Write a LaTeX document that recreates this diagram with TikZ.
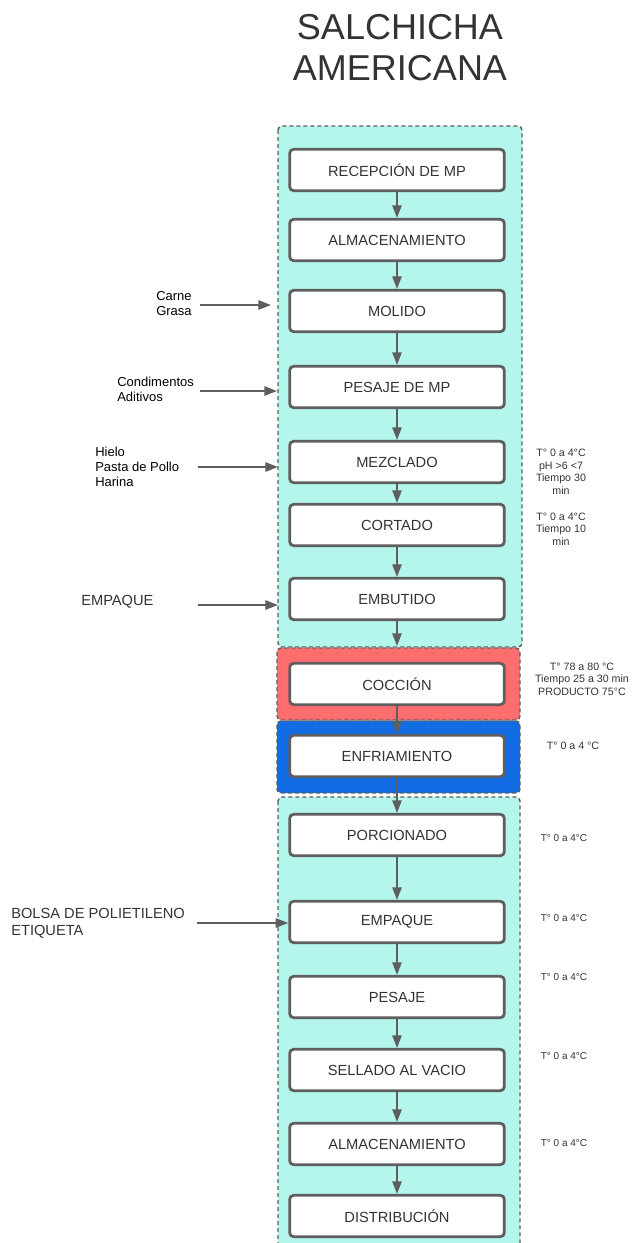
\documentclass[tikz,border=0pt]{standalone}
\usepackage{fontspec}
\setmainfont{Liberation Sans}
\usetikzlibrary{arrows.meta}
\definecolor{tealbg}{RGB}{180,245,236}
\definecolor{rojobg}{RGB}{255,110,110}
\definecolor{azulbg}{RGB}{18,108,228}
\definecolor{gris}{RGB}{94,94,94}
\definecolor{texto}{RGB}{51,51,51}
\begin{document}
\begin{tikzpicture}[x=0.75pt,y=-0.75pt,
    paso/.style={draw=gris,line width=2.1pt,fill=white,rounded corners=3pt,
        minimum width=161pt,minimum height=31pt,inner sep=0pt,
        font=\fontsize{11}{13}\selectfont,text=texto},
    flecha/.style={draw=gris,line width=1.3pt,-{Triangle[length=9.5pt,width=7pt]}},
    zona/.style={draw=gris,line width=1.1pt,dash pattern=on 3pt off 2.25pt,rounded corners=3pt},
    nota/.style={font=\fontsize{8}{9.4}\selectfont,text=texto,align=center},
    notachica/.style={font=\fontsize{7.5}{9}\selectfont,text=texto},
    entrada/.style={font=\fontsize{9.75}{11.25}\selectfont,text=black,align=left,anchor=west,inner sep=0pt}]
    \useasboundingbox (0,0) rectangle (634,1243);
    \clip (0,0) rectangle (634,1243);

    % titulo
    \node[font=\fontsize{27}{30.75}\selectfont,text=texto,align=center] (titulo) at (400,48) {SALCHICHA\\AMERICANA};

    % zonas de fondo
    \draw[zona,fill=tealbg] (278,126) rectangle (522,647);
    \draw[zona,fill=rojobg] (277,648) rectangle (520,720);
    \draw[zona,fill=azulbg] (277,721) rectangle (520,793);
    \draw[zona,fill=tealbg] (278,797) rectangle (520,1260);
    \coordinate (finzona) at (397,646);

    % pasos del proceso
    \node[paso] (recepcion) at (397,170) {RECEPCIÓN DE MP};
    \node[paso] (almacen) at (397,240) {ALMACENAMIENTO};
    \node[paso] (molido) at (397,311) {MOLIDO};
    \node[paso] (pesajemp) at (397,387) {PESAJE DE MP};
    \node[paso] (mezclado) at (397,462) {MEZCLADO};
    \node[paso] (cortado) at (397,525) {CORTADO};
    \node[paso] (embutido) at (397,599) {EMBUTIDO};
    \node[paso] (coccion) at (397,684) {COCCIÓN};
    \node[paso] (enfriamiento) at (397,756) {ENFRIAMIENTO};
    \node[paso] (porcionado) at (397,835) {PORCIONADO};
    \node[paso] (empaque) at (397,922) {EMPAQUE};
    \node[paso] (pesaje) at (397,997) {PESAJE};
    \node[paso] (sellado) at (397,1070) {SELLADO AL VACIO};
    \node[paso] (almacen2) at (397,1144) {ALMACENAMIENTO};
    \node[paso] (distribucion) at (397,1216) {DISTRIBUCIÓN};

    \draw[flecha] (recepcion) -- (almacen);
    \draw[flecha] (almacen) -- (molido);
    \draw[flecha] (molido) -- (pesajemp);
    \draw[flecha] (pesajemp) -- (mezclado);
    \draw[flecha] (mezclado) -- (cortado);
    \draw[flecha] (cortado) -- (embutido);
    \draw[flecha] (embutido) -- (finzona);
    \draw[flecha] (coccion) -- (enfriamiento);
    \draw[flecha] (enfriamiento) -- (porcionado);
    \draw[flecha] (porcionado) -- (empaque);
    \draw[flecha] (empaque) -- (pesaje);
    \draw[flecha] (pesaje) -- (sellado);
    \draw[flecha] (sellado) -- (almacen2);
    \draw[flecha] (almacen2) -- (distribucion);

    % entradas por la izquierda
    \node[entrada] (carne) at (156,304) {Carne\\Grasa};
    \node[entrada] (condimentos) at (117,389) {Condimentos\\Aditivos};
    \node[entrada] (hielo) at (95,467) {Hielo\\Pasta de Pollo\\Harina};
    \node[entrada,font=\fontsize{11}{13}\selectfont,text=texto] (funda) at (81,602) {EMPAQUE};
    \node[entrada,font=\fontsize{11}{12.75}\selectfont,text=texto] (bolsa) at (11,923) {BOLSA DE POLIETILENO\\ETIQUETA};

    \coordinate (c1) at (200,305);
    \coordinate (c2) at (200,391);
    \coordinate (c3) at (198,467);
    \coordinate (c4) at (198,605);
    \coordinate (c5) at (197,923);
    \draw[flecha] (c1) -- (c1 -| 271,0);
    \draw[flecha] (c2) -- (c2 -| 277,0);
    \draw[flecha] (c3) -- (c3 -| 278,0);
    \draw[flecha] (c4) -- (c4 -| 278,0);
    \draw[flecha] (c5) -- (c5 -| empaque.west);

    % condiciones por la derecha
    \node[nota] (nmezclado) at (561,472) {T° 0 a 4°C\\pH >6 <7\\Tiempo 30\\min};
    \node[nota] (ncortado) at (561,529) {T° 0 a 4°C\\Tiempo 10\\min};
    \node[nota] (ncoccion) at (582,679) {T° 78 a 80 °C\\Tiempo 25 a 30 min\\PRODUCTO 75°C};
    \node[nota] (nenfriamiento) at (573,746) {T° 0 a 4 °C};
    \node[notachica] (nporcionado) at (564,838) {T° 0 a 4°C};
    \node[notachica] (nempaque) at (564,918) {T° 0 a 4°C};
    \node[notachica] (npesaje) at (564,977) {T° 0 a 4°C};
    \node[notachica] (nsellado) at (564,1056) {T° 0 a 4°C};
    \node[notachica] (nalmacen) at (564,1143) {T° 0 a 4°C};
\end{tikzpicture}
\end{document}
